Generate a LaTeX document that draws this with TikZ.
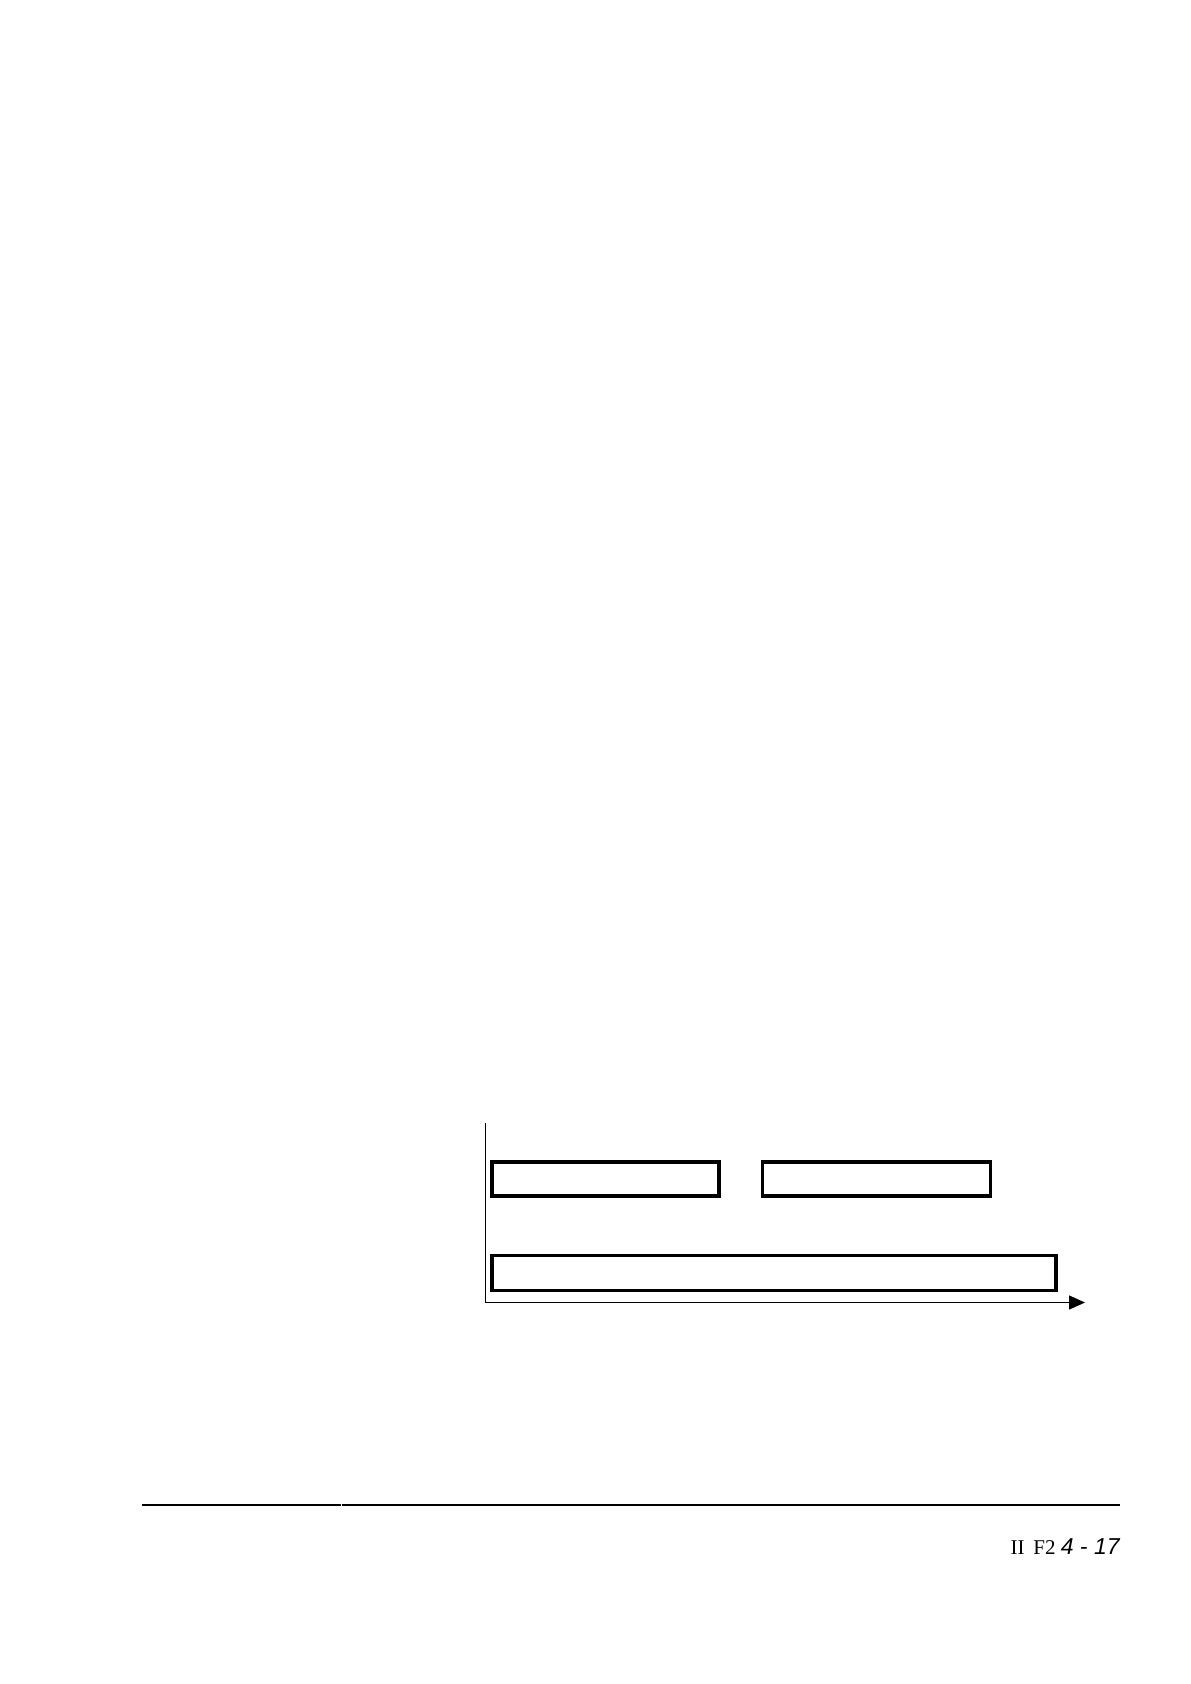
\documentclass[tikz,border=0pt]{standalone}
\usepackage{fontspec}
\setmainfont{Liberation Serif}
\newfontfamily\pagenumfont{Liberation Sans}
\usepackage{tikz}
\usetikzlibrary{calc,positioning,arrows.meta}
\tikzset{
bar/.style={draw, line width=1.6pt, minimum height=17pt, inner sep=0pt}, % the time bars
%axis/.style={line width=0.6pt},
footrule/.style={line width=1.2pt},
}

\begin{document}
\begin{tikzpicture}[x=0.5pt,y=-0.5pt,node distance=20pt]
    \useasboundingbox (0,0) rectangle (1190,1684);
    \coordinate (origin) at (485.7,1302.5);
    \coordinate (yend) at (485.7,1122.5);
    \coordinate (xend) at (1085,1302.5);
    \node[bar, minimum width=113.5pt] (A) at (605.5,1179) {};
    \node[bar, minimum width=114pt] (B) [right=20pt of A] {};
    \node[bar, minimum width=282pt, minimum height=17.5pt] (C) [below=28pt of A.south west, anchor=north west] {};
    \draw[line width=0.65pt, -{Triangle[length=8pt,width=7pt]}] (yend) -- (origin) -- (xend);
    % page footer
    \coordinate (r1) at (142,1505);
    \coordinate (r2) at (341,1505);
    \coordinate (r3) at (342,1505);
    \coordinate (r4) at (1120,1505);
    \draw[footrule] (r1) -- (r2);
    \draw[footrule] (r3) -- (r4);
    \node[anchor=base east, inner sep=0pt] (pagenum) at (1120,1554)
        {\fontsize{10.5}{12}\selectfont II\, F2 {\pagenumfont\itshape\fontsize{11.5}{13}\selectfont 4 - 17}};
\end{tikzpicture}
\end{document}
